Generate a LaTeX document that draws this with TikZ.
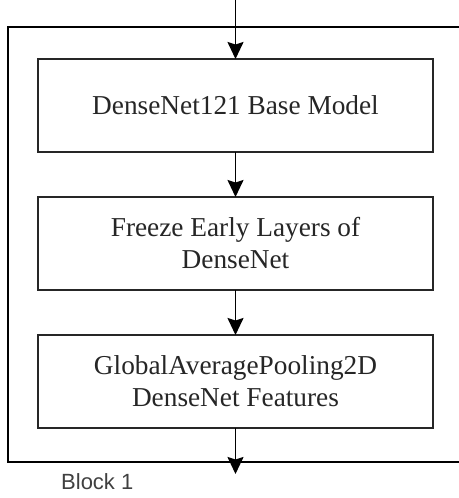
\documentclass[tikz,border=0pt]{standalone}
\usepackage{fontspec}
\setmainfont{Liberation Serif}
\newfontfamily\blockfont{Liberation Sans}
\usetikzlibrary{arrows.meta}

\tikzset{
  stagebox/.style={draw=black!85, line width=1.8pt, fill=white,
    minimum width=395pt, minimum height=93pt, inner sep=0pt, outer sep=0pt,
    align=center, text=black!85, font=\fontsize{27.3}{32}\selectfont},
  flow/.style={draw=black, line width=1.6pt,
    -{Stealth[length=17pt,width=16pt,inset=2.5pt]}},
  frame/.style={draw=black, line width=1.8pt},
  caption/.style={font=\blockfont\fontsize{22}{26}\selectfont, text=black!75,
    inner sep=0pt, anchor=base west}
}

\begin{document}
\begin{tikzpicture}[x=1pt, y=-1pt]
  \useasboundingbox[fill=white] (0,0) rectangle (458,498);

  % block frame, open on the right
  \draw[frame] (470,27) -- (8,27) -- (8,462) -- (470,462);

  % stages
  \node[stagebox] (base)   at (235.5,105.5) {DenseNet121 Base Model};
  \node[stagebox] (freeze) at (235.5,243.5) {Freeze Early Layers of\\DenseNet};
  \node[stagebox] (pool)   at (235.5,381.5) {GlobalAveragePooling2D\\DenseNet Features};

  % entry and exit points
  \coordinate (in)  at (235.5,0);
  \coordinate (out) at (235.5,474);

  \draw[flow] (in) -- (base);
  \draw[flow] (base) -- (freeze);
  \draw[flow] (freeze) -- (pool);
  \draw[flow] (pool) -- (out);

  \node[caption] (label) at (61,489) {Block 1};
\end{tikzpicture}
\end{document}
